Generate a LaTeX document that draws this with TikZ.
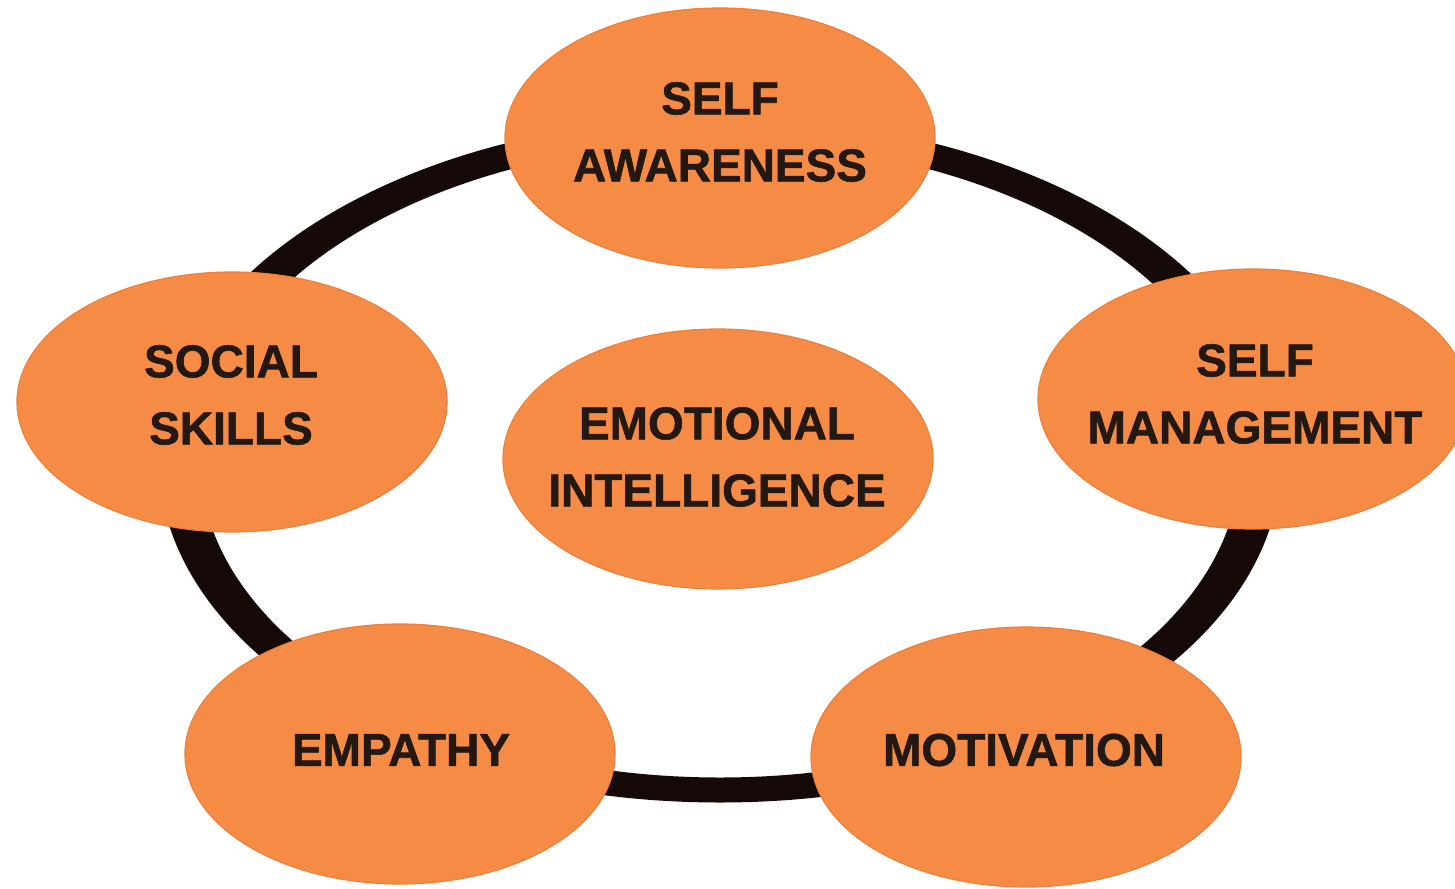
\documentclass[tikz,border=0pt]{standalone}
\usepackage{fontspec}
\setmainfont{Liberation Sans}[BoldFeatures={FakeBold=1.2}]
\usetikzlibrary{shapes.geometric}
\definecolor{petal}{RGB}{246,139,70}
\definecolor{petaledge}{RGB}{236,128,60}
\definecolor{ink}{RGB}{35,24,18}
\definecolor{ringcol}{RGB}{22,10,8}
\begin{document}
\begin{tikzpicture}[x=1pt,y=-1pt,
  petalbox/.style={ellipse,fill=petal,draw=petaledge,line width=1.2pt,
    minimum width=430pt,minimum height=260pt,inner sep=0pt},
  caption/.style={text=ink,align=center,inner sep=0pt,
    font=\fontsize{46}{67}\selectfont\bfseries}]
\useasboundingbox (0,0) rectangle (1455,888);
\fill[white] (0,0) rectangle (1455,888);
% ring joining the five outer ellipses
\fill[ringcol,even odd rule]
  (720,460) ellipse [x radius=561pt,y radius=342.5pt]
  (720,460) ellipse [x radius=520pt,y radius=317.5pt];
% ellipses
\node[petalbox] (sa) at (720,138) {};
\node[petalbox] (ss) at (232,402) {};
\node[petalbox] (sm) at (1253,399) {};
\node[petalbox] (ei) at (718,459) {};
\node[petalbox] (em) at (400,754) {};
\node[petalbox] (mo) at (1026,757) {};
% captions
\node[caption] (tsa) at ([xshift=0pt,yshift=6pt]sa.center) {SELF\\AWARENESS};
\node[caption] (tss) at ([xshift=-1pt,yshift=7pt]ss.center) {SOCIAL\\SKILLS};
\node[caption] (tsm) at ([xshift=2pt,yshift=5pt]sm.center) {SELF\\MANAGEMENT};
\node[caption] (tei) at ([xshift=-1pt,yshift=2pt]ei.center) {EMOTIONAL\\INTELLIGENCE};
\node[caption] (tem) at ([xshift=1pt,yshift=4pt]em.center) {EMPATHY};
\node[caption] (tmo) at ([xshift=-2pt,yshift=7pt]mo.center) {MOTIVATION};
\end{tikzpicture}
\end{document}
